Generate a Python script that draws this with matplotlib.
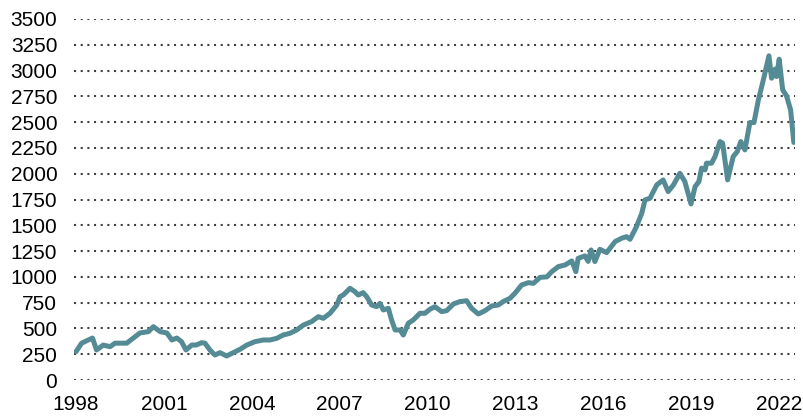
import matplotlib as mpl

mpl.use("agg")

import matplotlib.pyplot as plt

# values (decimal year, index level)
years = [1998.0, 1998.19, 1998.42, 1998.56, 1998.7, 1998.93, 1999.16, 1999.33, 1999.73, 1999.96,
         2000.18, 2000.47, 2000.64, 2000.87, 2001.1, 2001.27, 2001.44, 2001.6, 2001.75, 2001.95,
         2002.1, 2002.29, 2002.4, 2002.57, 2002.74, 2002.91, 2003.14, 2003.37, 2003.6, 2003.83,
         2004.11, 2004.39, 2004.62, 2004.85, 2005.07, 2005.3, 2005.53, 2005.76, 2006.04, 2006.27,
         2006.44, 2006.67, 2006.9, 2007.01, 2007.12, 2007.35, 2007.52, 2007.63, 2007.8, 2007.92,
         2008.09, 2008.26, 2008.37, 2008.49, 2008.66, 2008.77, 2008.89, 2009.06, 2009.17, 2009.34,
         2009.51, 2009.74, 2009.91, 2010.08, 2010.25, 2010.48, 2010.65, 2010.88, 2011.1, 2011.33,
         2011.5, 2011.73, 2011.96, 2012.19, 2012.41, 2012.58, 2012.81, 2012.98, 2013.21, 2013.44,
         2013.61, 2013.84, 2014.07, 2014.24, 2014.46, 2014.69, 2014.92, 2015.06, 2015.14, 2015.37,
         2015.48, 2015.58, 2015.71, 2015.88, 2016.11, 2016.4, 2016.62, 2016.79, 2016.91, 2017.13,
         2017.31, 2017.42, 2017.59, 2017.82, 2018.04, 2018.21, 2018.39, 2018.61, 2018.78, 2018.99,
         2019.13, 2019.26, 2019.35, 2019.47, 2019.52, 2019.69, 2019.81, 2019.98, 2020.07, 2020.24,
         2020.43, 2020.57, 2020.69, 2020.83, 2021.0, 2021.14, 2021.29, 2021.46, 2021.65, 2021.74,
         2021.86, 2021.91, 2022.0, 2022.12, 2022.25, 2022.39, 2022.5]
values = [275, 357, 388, 407, 291, 339, 323, 357, 357, 407,
          456, 469, 517, 469, 456, 388, 407, 372, 291, 339,
          339, 362, 357, 291, 242, 265, 233, 265, 298, 339,
          372, 388, 388, 404, 436, 453, 485, 533, 566, 614,
          598, 647, 727, 808, 824, 889, 856, 824, 847, 808,
          727, 711, 743, 679, 695, 582, 485, 485, 436, 550,
          582, 647, 647, 686, 711, 663, 672, 737, 760, 769,
          695, 640, 672, 718, 727, 760, 792, 841, 921, 944,
          937, 995, 1000, 1051, 1099, 1115, 1154, 1051, 1180, 1203,
          1150, 1261, 1148, 1267, 1235, 1342, 1374, 1390, 1364, 1488,
          1617, 1746, 1762, 1891, 1940, 1827, 1891, 2004, 1924, 1707,
          1875, 1924, 2054, 2037, 2102, 2102, 2166, 2312, 2296, 1940,
          2166, 2215, 2312, 2231, 2496, 2496, 2716, 2910, 3143, 2926,
          3014, 2942, 3110, 2813, 2755, 2619, 2303]

xticks = [1998, 2001, 2004, 2007, 2010, 2013, 2016, 2019, 2022]
yticks = list(range(0, 3501, 250))

plt.rcParams['font.family'] = ['Liberation Sans', 'DejaVu Sans']

fig = plt.figure(figsize=(8.04, 4.16), dpi=100)
ax = fig.add_axes([74 / 804, 1 - 380 / 416, (795 - 74) / 804, (380 - 19) / 416])

ax.plot(years, values, color='#548B95', lw=3.6, solid_joinstyle='round', solid_capstyle='round')

ax.set_xlim(1997.93, 2022.54)
ax.set_ylim(0, 3500)
ax.set_xticks(xticks)
ax.set_xticklabels([str(t) for t in xticks])
ax.set_yticks(yticks)

ax.grid(axis='y', color='#404040', lw=1.5, linestyle=(0, (1, 2.2)))
ax.set_axisbelow(True)
for s in ax.spines.values():
    s.set_visible(False)
ax.tick_params(length=0, labelsize=15, colors='black')
ax.tick_params(axis='y', pad=12)
ax.tick_params(axis='x', pad=11)

plt.savefig("out.png", dpi=100)
